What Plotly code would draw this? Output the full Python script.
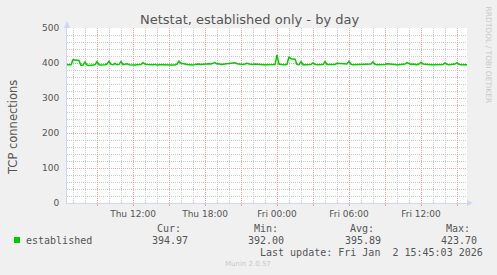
import plotly.graph_objects as go
from datetime import datetime, timedelta

# ---------------- data ----------------
series_name = "established"
start_time = datetime(2026, 1, 1, 6, 30)
end_time = datetime(2026, 1, 2, 15, 50)
sample_minutes = 10
established = [
    395, 394, 395, 409, 408, 408, 407, 393, 394, 403,
    394, 393, 394, 393, 395, 404, 395, 394, 394, 395,
    397, 405, 396, 395, 399, 395, 396, 404, 395, 396,
    398, 395, 394, 394, 394, 395, 395, 396, 401, 397,
    396, 395, 395, 395, 396, 394, 395, 396, 395, 395,
    394, 394, 394, 394, 394, 397, 405, 399, 399, 397,
    396, 395, 395, 394, 396, 397, 397, 396, 397, 397,
    398, 398, 397, 398, 401, 397, 398, 396, 397, 396,
    397, 398, 401, 402, 401, 398, 397, 396, 396, 397,
    399, 397, 396, 396, 397, 396, 396, 395, 395, 395,
    395, 395, 395, 395, 396, 423, 397, 396, 395, 395,
    396, 418, 412, 412, 411, 396, 395, 404, 395, 395,
    395, 395, 396, 400, 396, 395, 395, 395, 396, 404,
    396, 396, 396, 395, 396, 399, 399, 399, 399, 397,
    397, 405, 396, 395, 395, 395, 395, 395, 395, 395,
    395, 395, 397, 403, 396, 395, 395, 395, 395, 396,
    398, 397, 396, 395, 396, 395, 395, 396, 395, 397,
    401, 398, 396, 397, 396, 395, 397, 402, 397, 396,
    395, 395, 395, 395, 395, 395, 395, 395, 396, 400,
    396, 395, 395, 396, 397, 401, 396, 395, 395, 395,
    395,
]
times = [start_time + timedelta(minutes=sample_minutes * i) for i in range(len(established))]

stat_headers = ["Cur:", "Min:", "Avg:", "Max:"]
stat_values = ["394.97", "392.00", "395.89", "423.70"]
x_tick_labels = {12: "Thu 12:00", 18: "Thu 18:00", 24: "Fri 00:00", 30: "Fri 06:00", 36: "Fri 12:00"}
y_ticks = [0, 100, 200, 300, 400, 500]
title = "Netstat, established only - by day"
y_title = "TCP connections"
last_update = "Last update: Fri Jan  2 15:45:03 2026"
munin_version = "Munin 2.0.57"
watermark = "RRDTOOL / TOBI OETIKER"

# ---------------- layout geometry ----------------
W, H = 497, 275
PL, PR, PT, PB = 67, 467, 28, 203  # plot area in pixels


def px(x):
    return (x - PL) / (PR - PL)


def py(y):
    return (PB - y) / (PB - PT)


FONT = "DejaVu Sans"
MONO = "DejaVu Sans Mono"
TXT = "#555555"
MGRID = "#E2A8A8"
GRID = "#CCCCCC"
AXIS = "#CFD6F8"
GREEN = "#00CC00"

tickvals = [datetime(2026, 1, 1, 9) + timedelta(hours=3 * k) for k in range(11)]
ticktext = [x_tick_labels.get(9 + 3 * k, "") for k in range(11)]

fig = go.Figure()
fig.add_trace(go.Scatter(x=times, y=established, mode="lines",
                         line=dict(color=GREEN, width=1.5), hoverinfo="skip",
                         showlegend=False))

fig.update_layout(
    width=W, height=H,
    margin=dict(l=PL, r=W - PR, t=PT, b=H - PB, pad=0),
    paper_bgcolor="#F0F0F0", plot_bgcolor="#FFFFFF",
    showlegend=False,
    font=dict(family=FONT, size=9, color=TXT),
)
fig.update_xaxes(
    type="date", range=[start_time, end_time],
    tickmode="array", tickvals=tickvals, ticktext=ticktext,
    showgrid=True, gridcolor=MGRID, griddash="1px,1px", gridwidth=1,
    ticks="outside", ticklen=2, tickcolor=MGRID, tickwidth=1,
    minor=dict(dtick=3600000, tick0="2026-01-01 00:00", showgrid=True,
               gridcolor=GRID, griddash="1px,1px", gridwidth=1, ticks=""),
    showline=True, linecolor=AXIS, linewidth=1,
    zeroline=False, fixedrange=True,
    tickfont=dict(family=FONT, size=9, color=TXT),
)
fig.update_yaxes(
    range=[0, 500], tickmode="array", tickvals=y_ticks,
    ticktext=[str(v) for v in y_ticks],
    showgrid=True, gridcolor=MGRID, griddash="1px,1px", gridwidth=1,
    minor=dict(dtick=20, showgrid=True, gridcolor=GRID, griddash="1px,1px", gridwidth=1),
    showline=True, linecolor=AXIS, linewidth=1,
    zeroline=False, ticks="", ticklabelstandoff=5, fixedrange=True,
    tickfont=dict(family=FONT, size=9, color=TXT),
)

# arrows on the axes
fig.add_shape(type="path", xref="paper", yref="paper", xsizemode="pixel", ysizemode="pixel",
              xanchor=0, yanchor=1, path="M -3 0 L 3 0 L 0 7 Z",
              fillcolor=AXIS, line=dict(width=0))
fig.add_shape(type="path", xref="paper", yref="paper", xsizemode="pixel", ysizemode="pixel",
              xanchor=1, yanchor=0, path="M 0 -3 L 0 3 L 6 0 Z",
              fillcolor=AXIS, line=dict(width=0))

ann = []
ann.append(dict(text=title, x=px(249), y=py(19), xanchor="center", yanchor="middle",
                font=dict(family=FONT, size=13, color=TXT)))
ann.append(dict(text=y_title, x=px(13), y=py(128), xanchor="center", yanchor="middle",
                textangle=-90, font=dict(family=FONT, size=11.5, color=TXT)))
ann.append(dict(text=watermark, x=px(488), y=py(5), xanchor="center", yanchor="top",
                textangle=90, font=dict(family=FONT, size=7.5, color="#C8C8C8")))

# legend
fig.add_shape(type="rect", xref="paper", yref="paper",
              x0=px(14), x1=px(20), y0=py(243), y1=py(237),
              fillcolor=GREEN, line=dict(width=0))
ann.append(dict(text=series_name, x=px(25), y=py(240), xanchor="left", yanchor="middle",
                font=dict(family=MONO, size=10, color=TXT)))
head_right = [182, 279, 375, 471]
val_right = [189, 285, 382, 478]
for h, v, hr, vr in zip(stat_headers, stat_values, head_right, val_right):
    ann.append(dict(text=h, x=px(hr), y=py(228), xanchor="right", yanchor="middle",
                    font=dict(family=MONO, size=10, color=TXT)))
    ann.append(dict(text=v, x=px(vr), y=py(240), xanchor="right", yanchor="middle",
                    font=dict(family=MONO, size=10, color=TXT)))
ann.append(dict(text=last_update, x=px(484), y=py(252), xanchor="right", yanchor="middle",
                font=dict(family=MONO, size=10, color=TXT)))
ann.append(dict(text=munin_version, x=px(248), y=py(264), xanchor="center", yanchor="middle",
                font=dict(family=FONT, size=7, color="#C8C8C8")))

for a in ann:
    a.update(xref="paper", yref="paper", showarrow=False, borderpad=0)
fig.update_layout(annotations=ann)

fig.write_html("out.html")
